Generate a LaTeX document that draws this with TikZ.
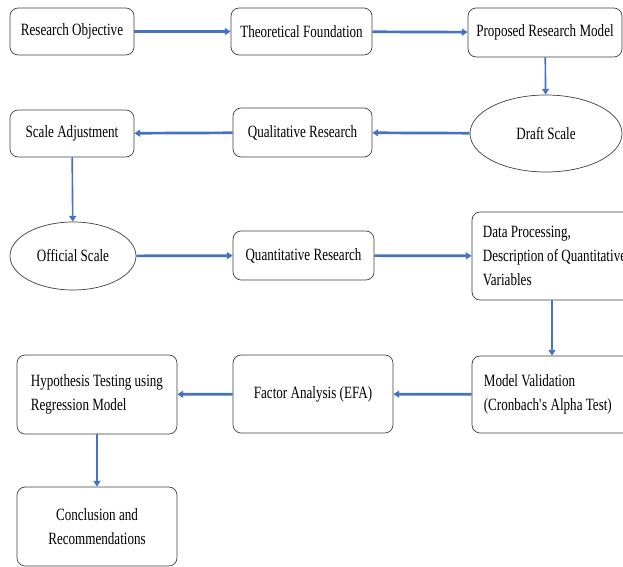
\documentclass[tikz,border=0pt]{standalone}
\usepackage{fontspec}
\setmainfont[FakeStretch=0.76]{Liberation Serif}
\usetikzlibrary{arrows.meta,positioning,shapes.geometric,calc}
\definecolor{flowBlue}{RGB}{68,114,196}
\definecolor{flowEdge}{RGB}{64,64,64}

\begin{document}
\begin{tikzpicture}[
  x=0.03cm,y=-0.03cm,
  every node/.style={font=\fontsize{14.7}{20.5}\selectfont},
  stage/.style={draw=flowEdge,line width=0.6pt,rounded corners=7pt,
                fill=white,inner sep=0pt,align=center},
  oval/.style={ellipse,draw=flowEdge,line width=0.6pt,fill=white,inner sep=0pt},
  body/.style={align=left,inner sep=0pt,anchor=west},
  flow/.style={draw=flowBlue,line width=2.3pt,-{Triangle[length=5pt,width=6pt]}},
  down/.style={flow,line width=1.4pt}
]
\useasboundingbox (0,0) rectangle (623,567);
\fill[white] (0,0) rectangle (623,567);
\clip (0,0) rectangle (623,567);

% row 1
\node[stage,minimum width=3.72cm,minimum height=1.41cm] (RO) at (72,31.5) {Research Objective};
\node[stage,minimum width=4.23cm,minimum height=1.41cm] (TF) at (301.5,31.5) {Theoretical Foundation};
\node[stage,minimum width=4.62cm,minimum height=1.47cm] (PRM) at (545,32.5) {Proposed Research Model};

% row 2
\node[oval,minimum width=4.56cm,minimum height=2.31cm] (DS) at (546,133.5) {Draft Scale};
\node[stage,minimum width=4.17cm,minimum height=1.47cm] (QlR) at (302.5,132.5) {Qualitative Research};
\node[stage,minimum width=3.72cm,minimum height=1.41cm] (SA) at (72,133.5) {Scale Adjustment};

% row 3
\node[oval,minimum width=3.78cm,minimum height=2.04cm] (OS) at (73,256) {Official Scale};
\node[stage,minimum width=4.23cm,minimum height=1.47cm] (QnR) at (303.5,255.5) {Quantitative Research};
\node[stage,minimum width=4.8cm,minimum height=2.64cm] (DP) at (552,256) {};
\node[body] (DPtxt) at ($(DP.west)+(11,0)$)
   {Data Processing,\\Description of Quantitative\\Variables};

% row 4
\node[stage,minimum width=4.8cm,minimum height=2.31cm] (MV) at (552,394.5) {};
\node[body] (MVtxt) at ($(MV.west)+(12,0)$)
   {Model Validation\\(Cronbach\textquotesingle s Alpha Test)};
\node[stage,minimum width=4.8cm,minimum height=2.34cm] (FA) at (313,394) {Factor Analysis (EFA)};
\node[stage,minimum width=4.8cm,minimum height=2.37cm] (HT) at (97,394.5) {};
\node[body] (HTtxt) at ($(HT.west)+(14,0)$)
   {Hypothesis Testing using\\Regression Model};

% row 5
\node[stage,minimum width=4.8cm,minimum height=2.37cm] (CR) at (97,526.5)
   {Conclusion and\\Recommendations};

% connectors
\draw[flow] (RO) -- (TF);
\draw[flow] (TF) -- (PRM);
\draw[down] (PRM) -- (DS);
\draw[flow] (DS) -- (QlR);
\draw[flow] (QlR) -- (SA);
\draw[down] (SA) -- (OS);
\draw[flow] (OS) -- (QnR);
\draw[flow] (QnR) -- (DP);
\draw[down] (DP) -- (MV);
\draw[flow] (MV) -- (FA);
\draw[flow] (FA) -- (HT);
\draw[down] (HT) -- (CR);
\end{tikzpicture}
\end{document}
